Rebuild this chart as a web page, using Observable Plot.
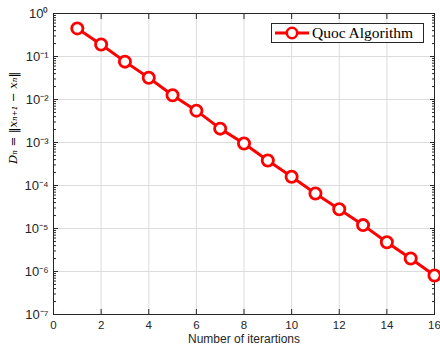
<!DOCTYPE html>
<html><head><meta charset="utf-8">
<script src="https://cdn.jsdelivr.net/npm/d3@7"></script>
<script src="https://cdn.jsdelivr.net/npm/@observablehq/plot@0.6"></script>
<style>
body{margin:0;background:#fff}
#wrap{position:relative;width:440px;height:350px}
#legend{position:absolute;left:271px;top:23px;width:151px;height:18px;border:1px solid #262626;background:#fff;display:flex;align-items:center;font-family:"Liberation Serif",serif;font-size:15.5px;color:#000;white-space:nowrap;overflow:hidden}
#legend svg{margin-left:2px;margin-right:2px;flex:none}
</style>
</head><body>
<div id="wrap"><div id="chart"></div>
<div id="legend"><svg width="36" height="18"><line x1="1" y1="9" x2="35" y2="9" stroke="#ff0000" stroke-width="3"/><circle cx="18" cy="9" r="5.2" fill="#fff" stroke="#ff0000" stroke-width="2.6"/></svg><span id="legendText"></span></div>
</div>
<script>
const iterations = [1,2,3,4,5,6,7,8,9,10,11,12,13,14,15,16];
const residuals = [0.45,0.19,0.076,0.032,0.0126,0.0055,0.0021,0.00095,0.00038,0.00016,6.5e-5,2.8e-5,1.2e-5,4.8e-6,2.0e-6,8.1e-7];
const xTicks = [0,2,4,6,8,10,12,14,16];
const yTicks = [1e-7,1e-6,1e-5,1e-4,1e-3,1e-2,1e-1,1];
const yTickLabels = ["10⁻⁷","10⁻⁶","10⁻⁵","10⁻⁴","10⁻³","10⁻²","10⁻¹","10⁰"];
const seriesName = "Quoc Algorithm";
const xLabel = "Number of iterartions";
const yLabel = "Dₙ = ‖xₙ₊₁ − xₙ‖";

document.getElementById("legendText").textContent = seriesName;
const data = iterations.map((x,i)=>({x, y: residuals[i]}));
const yMinor = [];
for (let e=-7;e<0;e++) for (let m=2;m<=9;m++) yMinor.push(m*Math.pow(10,e));
const blank = () => "";
const ink = "#262626";

const plot = Plot.plot({
  width: 440, height: 350,
  marginLeft: 53, marginRight: 6, marginTop: 13, marginBottom: 36,
  style: {fontFamily: "'Liberation Sans', Arial, sans-serif", fontSize: "11px", color: ink, background: "#fff"},
  x: {domain: [0,16]},
  y: {type: "log", domain: [1e-7, 1]},
  marks: [
    Plot.gridX(xTicks, {stroke: "#dcdcdc", strokeOpacity: 1}),
    Plot.gridY(yTicks, {stroke: "#dcdcdc", strokeOpacity: 1}),
    Plot.frame({stroke: ink}),
    Plot.axisX(xTicks, {anchor: "bottom", tickSize: -5, tickPadding: 11, fontSize: 11.5, stroke: ink, fill: ink, label: null}),
    Plot.axisX(xTicks, {anchor: "top", tickSize: -5, tickFormat: blank, stroke: ink, label: null}),
    Plot.axisY(yTicks, {anchor: "left", tickSize: -5, tickPadding: 10, fontSize: 13, tickFormat: (d) => yTickLabels[yTicks.indexOf(d)], stroke: ink, fill: ink, label: null}),
    Plot.axisY(yTicks, {anchor: "right", tickSize: -5, tickFormat: blank, stroke: ink, label: null}),
    Plot.axisY(yMinor, {anchor: "left", tickSize: -3, tickFormat: blank, stroke: ink, label: null}),
    Plot.axisY(yMinor, {anchor: "right", tickSize: -3, tickFormat: blank, stroke: ink, label: null}),
    Plot.line(data, {x: "x", y: "y", stroke: "#ff0000", strokeWidth: 3}),
    Plot.dot(data, {x: "x", y: "y", r: 5.6, stroke: "#ff0000", strokeWidth: 2.8, fill: "#fff"}),
    Plot.text([xLabel], {frameAnchor: "bottom", dy: 28, text: d => d, fontSize: 12, fill: ink}),
    Plot.text([yLabel], {frameAnchor: "left", dx: -40, rotate: -90, text: d => d, fontSize: 11.5, fontFamily: "'DejaVu Serif', serif", fontStyle: "italic", fill: "#000"})
  ]
});
document.getElementById("chart").appendChild(plot);
</script>
</body></html>
